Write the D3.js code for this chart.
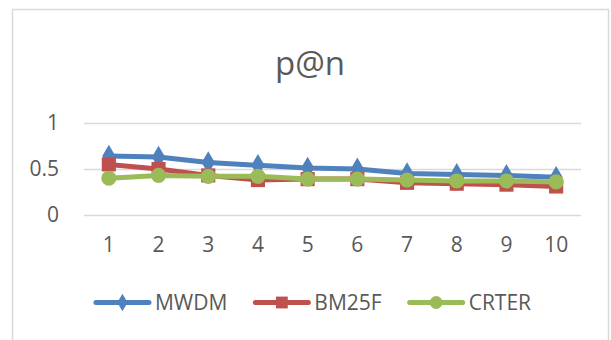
<!DOCTYPE html>
<html>
<head>
<meta charset="utf-8">
<script src="https://cdn.jsdelivr.net/npm/d3@7"></script>
<style>
  html, body { margin: 0; padding: 0; background: #fff; }
  svg { display: block; }
  text { font-family: "Open Sans", "Noto Sans", sans-serif; fill: #595959; }
</style>
</head>
<body>
<svg id="chart" width="611" height="340"></svg>
<script>
const categories = ["1","2","3","4","5","6","7","8","9","10"];
const seriesNames = ["MWDM","BM25F","CRTER"];
const mwdm  = [0.64,0.63,0.57,0.54,0.51,0.50,0.45,0.44,0.43,0.41];
const bm25f = [0.55,0.50,0.43,0.38,0.39,0.39,0.35,0.34,0.33,0.31];
const crter = [0.40,0.43,0.42,0.42,0.39,0.39,0.38,0.37,0.37,0.36];
const yTicks = [0, 0.5, 1];
const titleText = "p@n";

const colors = ["#4f81bd", "#c0504d", "#9bbb59"];
const markers = [d3.symbolDiamond, d3.symbolSquare, d3.symbolCircle];
const markerSizes = [150, 200, 180];
const legendMarkerSizes = [90, 140, 130];
const series = [mwdm, bm25f, crter];

const svg = d3.select("#chart");

// chart border
svg.append("rect")
  .attr("x", 12.5).attr("y", 9.5)
  .attr("width", 596).attr("height", 340)
  .attr("fill", "#fff")
  .attr("stroke", "#d9d9d9").attr("stroke-width", 1.5);

const plot = {left: 84, right: 581, top: 123, bottom: 215};

const x = d3.scaleBand().domain(categories).range([plot.left, plot.right]);
const y = d3.scaleLinear().domain([0, 1]).range([plot.bottom, plot.top]);

// title
svg.append("text")
  .attr("x", 310).attr("y", 75)
  .attr("text-anchor", "middle")
  .style("font-size", "33px")
  .text(titleText);

// gridlines + y labels
const yAxis = d3.axisLeft(y).tickValues(yTicks)
  .tickSize(-(plot.right - plot.left)).tickPadding(25)
  .tickFormat(d => d3.format("")(d));
const gy = svg.append("g").attr("transform", `translate(${plot.left},0)`).call(yAxis);
gy.select(".domain").remove();
gy.selectAll(".tick line").attr("stroke", "#d9d9d9").attr("stroke-width", 1.5);
gy.selectAll(".tick text").style("font-size", "21px").attr("fill", "#595959")
  .attr("font-family", null);

// x labels
const xAxis = d3.axisBottom(x).tickSize(0).tickPadding(22);
const gx = svg.append("g").attr("transform", `translate(0,${plot.bottom})`).call(xAxis);
gx.select(".domain").remove();
gx.selectAll(".tick text").style("font-size", "21px").attr("fill", "#595959")
  .attr("font-family", null);

// lines
const line = d3.line()
  .x((d, i) => x(categories[i]) + x.bandwidth() / 2)
  .y(d => y(d));

series.forEach((vals, si) => {
  svg.append("path")
    .datum(vals)
    .attr("fill", "none")
    .attr("stroke", colors[si])
    .attr("stroke-width", 5)
    .attr("stroke-linejoin", "round")
    .attr("stroke-linecap", "round")
    .attr("d", line);
  svg.append("g").selectAll("path")
    .data(vals).join("path")
    .attr("transform", (d, i) => `translate(${x(categories[i]) + x.bandwidth() / 2},${y(d)})`)
    .attr("d", d3.symbol().type(markers[si]).size(markerSizes[si]))
    .attr("fill", colors[si]);
});

// legend
const legend = svg.append("g");
let cx = 0;
const items = [];
seriesNames.forEach((name, si) => {
  const g = legend.append("g");
  g.append("line").attr("x1", 0).attr("x2", 53).attr("y1", 0).attr("y2", 0)
    .attr("stroke", colors[si]).attr("stroke-width", 5).attr("stroke-linecap", "round");
  g.append("path").attr("transform", "translate(26.5,0)")
    .attr("d", d3.symbol().type(markers[si]).size(legendMarkerSizes[si]))
    .attr("fill", colors[si]);
  const t = g.append("text").attr("x", 59).attr("y", 7.5)
    .style("font-size", "21px").text(name);
  const w = 59 + t.node().getComputedTextLength();
  g.attr("transform", `translate(${cx},0)`);
  cx += w + 28;
  items.push(g);
});
const totalW = cx - 28;
legend.attr("transform", `translate(${313.5 - totalW / 2},302.5)`);
</script>
</body>
</html>
